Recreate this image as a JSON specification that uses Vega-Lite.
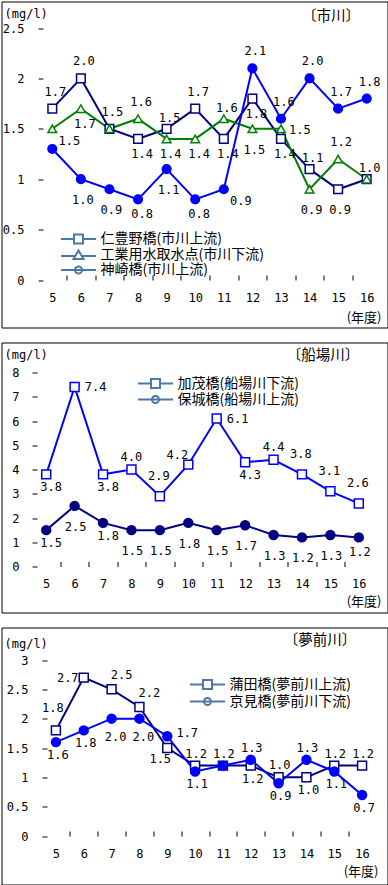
{
 "$schema": "https://vega.github.io/schema/vega-lite/v6.json",
 "padding": {"left": 0.5, "top": 0.5, "right": 0.5, "bottom": 0.5},
 "background": "white",
 "spacing": 15,
 "bounds": "flush",
 "resolve": {"scale": {"color": "independent", "stroke": "independent", "fill": "independent", "shape": "independent", "x": "independent", "y": "independent"}, "legend": {"color": "independent", "shape": "independent"}, "axis": {"x": "independent", "y": "independent"}},
 "datasets": {
  "p1": [
   {"year": 5, "site": "仁豊野橋(市川上流)", "value": 1.7},
   {"year": 6, "site": "仁豊野橋(市川上流)", "value": 2.0},
   {"year": 7, "site": "仁豊野橋(市川上流)", "value": 1.5},
   {"year": 8, "site": "仁豊野橋(市川上流)", "value": 1.4},
   {"year": 9, "site": "仁豊野橋(市川上流)", "value": 1.5},
   {"year": 10, "site": "仁豊野橋(市川上流)", "value": 1.7},
   {"year": 11, "site": "仁豊野橋(市川上流)", "value": 1.4},
   {"year": 12, "site": "仁豊野橋(市川上流)", "value": 1.8},
   {"year": 13, "site": "仁豊野橋(市川上流)", "value": 1.4},
   {"year": 14, "site": "仁豊野橋(市川上流)", "value": 1.1},
   {"year": 15, "site": "仁豊野橋(市川上流)", "value": 0.9},
   {"year": 16, "site": "仁豊野橋(市川上流)", "value": 1.0},
   {"year": 5, "site": "工業用水取水点(市川下流)", "value": 1.5},
   {"year": 6, "site": "工業用水取水点(市川下流)", "value": 1.7},
   {"year": 7, "site": "工業用水取水点(市川下流)", "value": 1.5},
   {"year": 8, "site": "工業用水取水点(市川下流)", "value": 1.6},
   {"year": 9, "site": "工業用水取水点(市川下流)", "value": 1.4},
   {"year": 10, "site": "工業用水取水点(市川下流)", "value": 1.4},
   {"year": 11, "site": "工業用水取水点(市川下流)", "value": 1.6},
   {"year": 12, "site": "工業用水取水点(市川下流)", "value": 1.5},
   {"year": 13, "site": "工業用水取水点(市川下流)", "value": 1.5},
   {"year": 14, "site": "工業用水取水点(市川下流)", "value": 0.9},
   {"year": 15, "site": "工業用水取水点(市川下流)", "value": 1.2},
   {"year": 16, "site": "工業用水取水点(市川下流)", "value": 1.0},
   {"year": 5, "site": "神崎橋(市川上流)", "value": 1.3},
   {"year": 6, "site": "神崎橋(市川上流)", "value": 1.0},
   {"year": 7, "site": "神崎橋(市川上流)", "value": 0.9},
   {"year": 8, "site": "神崎橋(市川上流)", "value": 0.8},
   {"year": 9, "site": "神崎橋(市川上流)", "value": 1.1},
   {"year": 10, "site": "神崎橋(市川上流)", "value": 0.8},
   {"year": 11, "site": "神崎橋(市川上流)", "value": 0.9},
   {"year": 12, "site": "神崎橋(市川上流)", "value": 2.1},
   {"year": 13, "site": "神崎橋(市川上流)", "value": 1.6},
   {"year": 14, "site": "神崎橋(市川上流)", "value": 2.0},
   {"year": 15, "site": "神崎橋(市川上流)", "value": 1.7},
   {"year": 16, "site": "神崎橋(市川上流)", "value": 1.8}
  ],
  "p2": [
   {"year": 5, "site": "加茂橋(船場川下流)", "value": 3.8},
   {"year": 6, "site": "加茂橋(船場川下流)", "value": 7.4},
   {"year": 7, "site": "加茂橋(船場川下流)", "value": 3.8},
   {"year": 8, "site": "加茂橋(船場川下流)", "value": 4.0},
   {"year": 9, "site": "加茂橋(船場川下流)", "value": 2.9},
   {"year": 10, "site": "加茂橋(船場川下流)", "value": 4.2},
   {"year": 11, "site": "加茂橋(船場川下流)", "value": 6.1},
   {"year": 12, "site": "加茂橋(船場川下流)", "value": 4.3},
   {"year": 13, "site": "加茂橋(船場川下流)", "value": 4.4},
   {"year": 14, "site": "加茂橋(船場川下流)", "value": 3.8},
   {"year": 15, "site": "加茂橋(船場川下流)", "value": 3.1},
   {"year": 16, "site": "加茂橋(船場川下流)", "value": 2.6},
   {"year": 5, "site": "保城橋(船場川上流)", "value": 1.5},
   {"year": 6, "site": "保城橋(船場川上流)", "value": 2.5},
   {"year": 7, "site": "保城橋(船場川上流)", "value": 1.8},
   {"year": 8, "site": "保城橋(船場川上流)", "value": 1.5},
   {"year": 9, "site": "保城橋(船場川上流)", "value": 1.5},
   {"year": 10, "site": "保城橋(船場川上流)", "value": 1.8},
   {"year": 11, "site": "保城橋(船場川上流)", "value": 1.5},
   {"year": 12, "site": "保城橋(船場川上流)", "value": 1.7},
   {"year": 13, "site": "保城橋(船場川上流)", "value": 1.3},
   {"year": 14, "site": "保城橋(船場川上流)", "value": 1.2},
   {"year": 15, "site": "保城橋(船場川上流)", "value": 1.3},
   {"year": 16, "site": "保城橋(船場川上流)", "value": 1.2}
  ],
  "p3": [
   {"year": 5, "site": "蒲田橋(夢前川上流)", "value": 1.8},
   {"year": 6, "site": "蒲田橋(夢前川上流)", "value": 2.7},
   {"year": 7, "site": "蒲田橋(夢前川上流)", "value": 2.5},
   {"year": 8, "site": "蒲田橋(夢前川上流)", "value": 2.2},
   {"year": 9, "site": "蒲田橋(夢前川上流)", "value": 1.5},
   {"year": 10, "site": "蒲田橋(夢前川上流)", "value": 1.2},
   {"year": 11, "site": "蒲田橋(夢前川上流)", "value": 1.2},
   {"year": 12, "site": "蒲田橋(夢前川上流)", "value": 1.2},
   {"year": 13, "site": "蒲田橋(夢前川上流)", "value": 1.0},
   {"year": 14, "site": "蒲田橋(夢前川上流)", "value": 1.0},
   {"year": 15, "site": "蒲田橋(夢前川上流)", "value": 1.2},
   {"year": 16, "site": "蒲田橋(夢前川上流)", "value": 1.2},
   {"year": 5, "site": "京見橋(夢前川下流)", "value": 1.6},
   {"year": 6, "site": "京見橋(夢前川下流)", "value": 1.8},
   {"year": 7, "site": "京見橋(夢前川下流)", "value": 2.0},
   {"year": 8, "site": "京見橋(夢前川下流)", "value": 2.0},
   {"year": 9, "site": "京見橋(夢前川下流)", "value": 1.7},
   {"year": 10, "site": "京見橋(夢前川下流)", "value": 1.1},
   {"year": 11, "site": "京見橋(夢前川下流)", "value": 1.2},
   {"year": 12, "site": "京見橋(夢前川下流)", "value": 1.3},
   {"year": 13, "site": "京見橋(夢前川下流)", "value": 0.9},
   {"year": 14, "site": "京見橋(夢前川下流)", "value": 1.3},
   {"year": 15, "site": "京見橋(夢前川下流)", "value": 1.1},
   {"year": 16, "site": "京見橋(夢前川下流)", "value": 0.7}
  ]
 },
 "vconcat": [
  {
   "width": 386, "height": 326,
   "data": {"name": "p1"},
   "resolve": {"scale": {"shape": "independent", "fill": "independent", "stroke": "independent"}},
   "encoding": {
    "x": {"field": "year", "type": "quantitative", "scale": {"domain": [4.5, 16.5], "range": [36.5, 379.5], "nice": false, "zero": false},
     "axis": {"values": [5, 5.5, 6, 6.5, 7, 7.5, 8, 8.5, 9, 9.5, 10, 10.5, 11, 11.5, 12, 12.5, 13, 13.5, 14, 14.5, 15, 15.5, 16], "labelExpr": "datum.value % 1 == 0 ? format(datum.value, 'd') : ''", "tickOpacity": {"condition": {"test": "datum.value % 1 == 0", "value": 0}, "value": 1}, "tickSize": -5, "offset": -47.5, "labelPadding": 22, "labelBaseline": "middle", "title": "(年度)", "titleX": 379.5, "titleY": 37, "titleAlign": "right", "titleBaseline": "middle"}},
    "y": {"field": "value", "type": "quantitative", "scale": {"domain": [0, 2.5], "range": [278.5, 26.5], "nice": false, "zero": false},
     "axis": {"values": [0, 0.5, 1, 1.5, 2, 2.5], "format": "~g", "tickSize": -5, "offset": -36.5, "labelPadding": 19, "title": "(mg/l)", "titleAngle": 0, "titleX": -34, "titleY": 12, "titleAlign": "left", "titleBaseline": "middle"}}
   },
   "layer": [
    {"data": {"values": [{}]}, "mark": {"type": "rect", "fillOpacity": 0, "stroke": "black", "strokeWidth": 1},
     "encoding": {"x": {"datum": 4.5, "type": "quantitative"}, "x2": {"datum": 16.5}, "y": {"datum": 0, "type": "quantitative"}, "y2": {"datum": 2.5}}},
    {"transform": [{"filter": "datum.year == 16 && slice(datum.site,0,1) == '神'"}],
     "mark": {"type": "text", "font": "Noto Sans CJK JP", "fontSize": 14.5, "align": "center", "baseline": "middle", "dx": -50, "dy": -11},
     "encoding": {"x": {"datum": 16.5, "type": "quantitative"}, "y": {"datum": 2.5, "type": "quantitative"}, "text": {"value": "〔市川〕"}}},
    {"mark": {"type": "line", "strokeWidth": 2},
     "encoding": {"color": {"field": "site", "type": "nominal", "scale": {"domain": ["仁豊野橋(市川上流)", "工業用水取水点(市川下流)", "神崎橋(市川上流)"], "range": ["#000080", "#008000", "#0000ff"]}, "legend": null}}},
    {"mark": {"type": "point", "strokeWidth": 1.5, "opacity": 1, "size": 75},
     "encoding": {
      "stroke": {"field": "site", "type": "nominal", "scale": {"domain": ["仁豊野橋(市川上流)", "工業用水取水点(市川下流)", "神崎橋(市川上流)"], "range": ["#000080", "#008000", "#0000ff"]}, "legend": null},
      "fill": {"field": "site", "type": "nominal", "scale": {"domain": ["仁豊野橋(市川上流)", "工業用水取水点(市川下流)", "神崎橋(市川上流)"], "range": ["#ffffff", "#ffffff", "#0000ff"]}, "legend": null},
      "shape": {"field": "site", "type": "nominal", "scale": {"domain": ["仁豊野橋(市川上流)", "工業用水取水点(市川下流)", "神崎橋(市川上流)"], "range": ["square", "triangle-up", "circle"]}, "legend": null}}},
    {"mark": {"type": "point", "opacity": 0, "size": 100, "filled": false},
     "encoding": {
      "shape": {"field": "site", "type": "nominal", "scale": {"domain": ["仁豊野橋(市川上流)", "工業用水取水点(市川下流)", "神崎橋(市川上流)"], "range": ["M-3.5,0L-0.9,0M0.9,0L3.5,0M-0.9,-0.9L0.9,-0.9L0.9,0.9L-0.9,0.9Z", "M-3.5,0.2L-0.6,0.2M0.6,0.2L3.5,0.2M0,-0.9L1,0.8L-1,0.8Z", "M-3.5,0L3.5,0M-0.7,0A0.7,0.7,0,1,1,0.7,0A0.7,0.7,0,1,1,-0.7,0Z"]},
       "legend": {"orient": "none", "legendX": 70, "legendY": 230.5, "title": null, "labelOffset": 15, "symbolSize": 100, "symbolOpacity": 1, "symbolStrokeWidth": 2, "rowPadding": -3,
        "encode": {"symbols": {"update": {
         "fill": {"signal": "datum.value == '神崎橋(市川上流)' ? '#0000ff' : '#ffffff'"},
         "stroke": {"signal": "datum.value == '仁豊野橋(市川上流)' ? '#000080' : datum.value == '工業用水取水点(市川下流)' ? '#008000' : '#0000ff'"},
         "opacity": {"value": 1}, "fillOpacity": {"value": 1}, "strokeOpacity": {"value": 1}, "strokeWidth": {"value": 2}}}}}}}},
    {"transform": [{"filter": "indexof(['仁5','仁6','仁7','工8','仁10','神12','神13','神14','神15','工15','神16'], slice(datum.site,0,1)+datum.year) >= 0"}],
     "mark": {"type": "text", "dx": 3, "dy": -17}, "encoding": {"text": {"field": "value", "format": ".1f"}}},
    {"transform": [{"filter": "indexof(['仁9','工11','仁14','仁16'], slice(datum.site,0,1)+datum.year) >= 0"}],
     "mark": {"type": "text", "dx": 3, "dy": -11}, "encoding": {"text": {"field": "value", "format": ".1f"}}},
    {"transform": [{"filter": "indexof(['工6','仁8','神8','工9','工10','神10','仁11','仁12','仁13'], slice(datum.site,0,1)+datum.year) >= 0"}],
     "mark": {"type": "text", "dx": 4, "dy": 15}, "encoding": {"text": {"field": "value", "format": ".1f"}}},
    {"transform": [{"filter": "indexof(['神6','神7','神9','工12','工14','仁15'], slice(datum.site,0,1)+datum.year) >= 0"}],
     "mark": {"type": "text", "dx": 2, "dy": 21}, "encoding": {"text": {"field": "value", "format": ".1f"}}},
    {"transform": [{"filter": "indexof(['工5','神11'], slice(datum.site,0,1)+datum.year) >= 0"}],
     "mark": {"type": "text", "dx": 17, "dy": 12}, "encoding": {"text": {"field": "value", "format": ".1f"}}},
    {"transform": [{"filter": "indexof(['工13'], slice(datum.site,0,1)+datum.year) >= 0"}],
     "mark": {"type": "text", "dx": 19, "dy": 1}, "encoding": {"text": {"field": "value", "format": ".1f"}}}
   ]
  },
  {
   "width": 386, "height": 270,
   "data": {"name": "p2"},
   "resolve": {"scale": {"shape": "independent", "fill": "independent", "stroke": "independent"}},
   "encoding": {
    "x": {"field": "year", "type": "quantitative", "scale": {"domain": [4.5, 16.5], "range": [30.5, 371.5], "nice": false, "zero": false},
     "axis": {"values": [5, 5.5, 6, 6.5, 7, 7.5, 8, 8.5, 9, 9.5, 10, 10.5, 11, 11.5, 12, 12.5, 13, 13.5, 14, 14.5, 15, 15.5, 16], "labelExpr": "datum.value % 1 == 0 ? format(datum.value, 'd') : ''", "tickOpacity": {"condition": {"test": "datum.value % 1 == 0", "value": 0}, "value": 1}, "tickSize": -5, "offset": -46, "labelPadding": 22, "labelBaseline": "middle", "title": "(年度)", "titleX": 379.5, "titleY": 35, "titleAlign": "right", "titleBaseline": "middle"}},
    "y": {"field": "value", "type": "quantitative", "scale": {"domain": [0, 8], "range": [224, 30], "nice": false, "zero": false},
     "axis": {"values": [0, 1, 2, 3, 4, 5, 6, 7, 8], "format": "d", "tickSize": -5, "offset": -30.5, "labelPadding": 18, "title": "(mg/l)", "titleAngle": 0, "titleX": -28, "titleY": 12, "titleAlign": "left", "titleBaseline": "middle"}}
   },
   "layer": [
    {"data": {"values": [{}]}, "mark": {"type": "rect", "fillOpacity": 0, "stroke": "black", "strokeWidth": 1},
     "encoding": {"x": {"datum": 4.5, "type": "quantitative"}, "x2": {"datum": 16.5}, "y": {"datum": 0, "type": "quantitative"}, "y2": {"datum": 8}}},
    {"transform": [{"filter": "datum.year == 16 && slice(datum.site,0,1) == '加'"}],
     "mark": {"type": "text", "font": "Noto Sans CJK JP", "fontSize": 14.5, "align": "center", "baseline": "middle", "dx": -50, "dy": -17},
     "encoding": {"x": {"datum": 16.5, "type": "quantitative"}, "y": {"datum": 8, "type": "quantitative"}, "text": {"value": "〔船場川〕"}}},
    {"mark": {"type": "line", "strokeWidth": 2},
     "encoding": {"color": {"field": "site", "type": "nominal", "scale": {"domain": ["加茂橋(船場川下流)", "保城橋(船場川上流)"], "range": ["#0000ff", "#000080"]}, "legend": null}}},
    {"mark": {"type": "point", "strokeWidth": 1.5, "opacity": 1, "size": 80},
     "encoding": {
      "stroke": {"field": "site", "type": "nominal", "scale": {"domain": ["加茂橋(船場川下流)", "保城橋(船場川上流)"], "range": ["#0000ff", "#000080"]}, "legend": null},
      "fill": {"field": "site", "type": "nominal", "scale": {"domain": ["加茂橋(船場川下流)", "保城橋(船場川上流)"], "range": ["#ffffff", "#000080"]}, "legend": null},
      "shape": {"field": "site", "type": "nominal", "scale": {"domain": ["加茂橋(船場川下流)", "保城橋(船場川上流)"], "range": ["square", "circle"]}, "legend": null}}},
    {"mark": {"type": "point", "opacity": 0, "size": 100, "filled": false},
     "encoding": {
      "shape": {"field": "site", "type": "nominal", "scale": {"domain": ["加茂橋(船場川下流)", "保城橋(船場川上流)"], "range": ["M-3.5,0L-0.9,0M0.9,0L3.5,0M-0.9,-0.9L0.9,-0.9L0.9,0.9L-0.9,0.9Z", "M-3.5,0L3.5,0M-0.7,0A0.7,0.7,0,1,1,0.7,0A0.7,0.7,0,1,1,-0.7,0Z"]},
       "legend": {"orient": "none", "legendX": 147, "legendY": 34, "title": null, "labelOffset": 15, "symbolSize": 100, "symbolOpacity": 1, "symbolStrokeWidth": 2, "rowPadding": -2,
        "encode": {"symbols": {"update": {
         "fill": {"signal": "datum.value == '加茂橋(船場川下流)' ? '#ffffff' : '#000080'"},
         "stroke": {"signal": "datum.value == '加茂橋(船場川下流)' ? '#0000ff' : '#000080'"},
         "opacity": {"value": 1}, "fillOpacity": {"value": 1}, "strokeOpacity": {"value": 1}, "strokeWidth": {"value": 2}}}}}}}},
    {"transform": [{"filter": "indexof(['加8','加13'], slice(datum.site,0,1)+datum.year) >= 0"}],
     "mark": {"type": "text", "dx": 0, "dy": -13}, "encoding": {"text": {"field": "value", "format": ".1f"}}},
    {"transform": [{"filter": "indexof(['加9','加14','加15','加16'], slice(datum.site,0,1)+datum.year) >= 0"}],
     "mark": {"type": "text", "dx": -1, "dy": -20}, "encoding": {"text": {"field": "value", "format": ".1f"}}},
    {"transform": [{"filter": "indexof(['加10'], slice(datum.site,0,1)+datum.year) >= 0"}],
     "mark": {"type": "text", "dx": -11, "dy": -10}, "encoding": {"text": {"field": "value", "format": ".1f"}}},
    {"transform": [{"filter": "indexof(['加6','加11'], slice(datum.site,0,1)+datum.year) >= 0"}],
     "mark": {"type": "text", "dx": 21, "dy": 0}, "encoding": {"text": {"field": "value", "format": ".1f"}}},
    {"transform": [{"filter": "indexof(['加5','加7','加12','保5','保7'], slice(datum.site,0,1)+datum.year) >= 0"}],
     "mark": {"type": "text", "dx": 5, "dy": 13}, "encoding": {"text": {"field": "value", "format": ".1f"}}},
    {"transform": [{"filter": "indexof(['保6','保8','保9','保10','保11','保12','保13','保14','保15'], slice(datum.site,0,1)+datum.year) >= 0"}],
     "mark": {"type": "text", "dx": 1, "dy": 21}, "encoding": {"text": {"field": "value", "format": ".1f"}}},
    {"transform": [{"filter": "indexof(['保16'], slice(datum.site,0,1)+datum.year) >= 0"}],
     "mark": {"type": "text", "dx": 1, "dy": 15}, "encoding": {"text": {"field": "value", "format": ".1f"}}}
   ]
  },
  {
   "width": 386, "height": 257,
   "data": {"name": "p3"},
   "resolve": {"scale": {"shape": "independent", "fill": "independent", "stroke": "independent"}},
   "encoding": {
    "x": {"field": "year", "type": "quantitative", "scale": {"domain": [4.5, 16.5], "range": [40.5, 374.5], "nice": false, "zero": false},
     "axis": {"values": [5, 5.5, 6, 6.5, 7, 7.5, 8, 8.5, 9, 9.5, 10, 10.5, 11, 11.5, 12, 12.5, 13, 13.5, 14, 14.5, 15, 15.5, 16], "labelExpr": "datum.value % 1 == 0 ? format(datum.value, 'd') : ''", "tickOpacity": {"condition": {"test": "datum.value % 1 == 0", "value": 0}, "value": 1}, "tickSize": -5, "offset": -48.5, "labelPadding": 22, "labelBaseline": "middle", "title": "(年度)", "titleX": 376.5, "titleY": 35.5, "titleAlign": "right", "titleBaseline": "middle"}},
    "y": {"field": "value", "type": "quantitative", "scale": {"domain": [0, 3], "range": [208.5, 32.5], "nice": false, "zero": false},
     "axis": {"values": [0, 0.5, 1, 1.5, 2, 2.5, 3], "format": "~g", "tickSize": -5, "offset": -40.5, "labelPadding": 19, "title": "(mg/l)", "titleAngle": 0, "titleX": -38, "titleY": 16, "titleAlign": "left", "titleBaseline": "middle"}}
   },
   "layer": [
    {"data": {"values": [{}]}, "mark": {"type": "rect", "fillOpacity": 0, "stroke": "black", "strokeWidth": 1},
     "encoding": {"x": {"datum": 4.5, "type": "quantitative"}, "x2": {"datum": 16.5}, "y": {"datum": 0, "type": "quantitative"}, "y2": {"datum": 3}}},
    {"transform": [{"filter": "datum.year == 16 && slice(datum.site,0,1) == '蒲'"}],
     "mark": {"type": "text", "font": "Noto Sans CJK JP", "fontSize": 14.5, "align": "center", "baseline": "middle", "dx": -56, "dy": -19},
     "encoding": {"x": {"datum": 16.5, "type": "quantitative"}, "y": {"datum": 3, "type": "quantitative"}, "text": {"value": "〔夢前川〕"}}},
    {"mark": {"type": "line", "strokeWidth": 2},
     "encoding": {"color": {"field": "site", "type": "nominal", "scale": {"domain": ["蒲田橋(夢前川上流)", "京見橋(夢前川下流)"], "range": ["#000080", "#0000ff"]}, "legend": null}}},
    {"mark": {"type": "point", "strokeWidth": 1.5, "opacity": 1, "size": 80},
     "encoding": {
      "stroke": {"field": "site", "type": "nominal", "scale": {"domain": ["蒲田橋(夢前川上流)", "京見橋(夢前川下流)"], "range": ["#000080", "#0000ff"]}, "legend": null},
      "fill": {"field": "site", "type": "nominal", "scale": {"domain": ["蒲田橋(夢前川上流)", "京見橋(夢前川下流)"], "range": ["#ffffff", "#0000ff"]}, "legend": null},
      "shape": {"field": "site", "type": "nominal", "scale": {"domain": ["蒲田橋(夢前川上流)", "京見橋(夢前川下流)"], "range": ["square", "circle"]}, "legend": null}}},
    {"mark": {"type": "point", "opacity": 0, "size": 100, "filled": false},
     "encoding": {
      "shape": {"field": "site", "type": "nominal", "scale": {"domain": ["蒲田橋(夢前川上流)", "京見橋(夢前川下流)"], "range": ["M-3.5,0L-0.9,0M0.9,0L3.5,0M-0.9,-0.9L0.9,-0.9L0.9,0.9L-0.9,0.9Z", "M-3.5,0L3.5,0M-0.7,0A0.7,0.7,0,1,1,0.7,0A0.7,0.7,0,1,1,-0.7,0Z"]},
       "legend": {"orient": "none", "legendX": 199, "legendY": 50, "title": null, "labelOffset": 15, "symbolSize": 100, "symbolOpacity": 1, "symbolStrokeWidth": 2, "rowPadding": 0,
        "encode": {"symbols": {"update": {
         "fill": {"signal": "datum.value == '蒲田橋(夢前川上流)' ? '#ffffff' : '#0000ff'"},
         "stroke": {"signal": "datum.value == '蒲田橋(夢前川上流)' ? '#000080' : '#0000ff'"},
         "opacity": {"value": 1}, "fillOpacity": {"value": 1}, "strokeOpacity": {"value": 1}, "strokeWidth": {"value": 2}}}}}}}},
    {"transform": [{"filter": "indexof(['蒲10','蒲11','蒲13','蒲15','蒲16','京12','京14'], slice(datum.site,0,1)+datum.year) >= 0"}],
     "mark": {"type": "text", "dx": 1, "dy": -12}, "encoding": {"text": {"field": "value", "format": ".1f"}}},
    {"transform": [{"filter": "indexof(['蒲7','蒲8'], slice(datum.site,0,1)+datum.year) >= 0"}],
     "mark": {"type": "text", "dx": 10, "dy": -14}, "encoding": {"text": {"field": "value", "format": ".1f"}}},
    {"transform": [{"filter": "indexof(['蒲5'], slice(datum.site,0,1)+datum.year) >= 0"}],
     "mark": {"type": "text", "dx": -3, "dy": -22}, "encoding": {"text": {"field": "value", "format": ".1f"}}},
    {"transform": [{"filter": "indexof(['蒲6'], slice(datum.site,0,1)+datum.year) >= 0"}],
     "mark": {"type": "text", "dx": -16, "dy": 0}, "encoding": {"text": {"field": "value", "format": ".1f"}}},
    {"transform": [{"filter": "indexof(['蒲12','蒲14','京10','京13','京15','京16','京5','京6'], slice(datum.site,0,1)+datum.year) >= 0"}],
     "mark": {"type": "text", "dx": 2, "dy": 13}, "encoding": {"text": {"field": "value", "format": ".1f"}}},
    {"transform": [{"filter": "indexof(['蒲9'], slice(datum.site,0,1)+datum.year) >= 0"}],
     "mark": {"type": "text", "dx": -7, "dy": 11}, "encoding": {"text": {"field": "value", "format": ".1f"}}},
    {"transform": [{"filter": "indexof(['京7','京8'], slice(datum.site,0,1)+datum.year) >= 0"}],
     "mark": {"type": "text", "dx": 4, "dy": 18}, "encoding": {"text": {"field": "value", "format": ".1f"}}},
    {"transform": [{"filter": "indexof(['京9'], slice(datum.site,0,1)+datum.year) >= 0"}],
     "mark": {"type": "text", "dx": 20, "dy": -3}, "encoding": {"text": {"field": "value", "format": ".1f"}}}
   ]
  }
 ],
 "config": {
  "view": {"stroke": "black", "strokeWidth": 1},
  "axis": {"labelFont": "DejaVu Sans Mono", "labelFontSize": 12, "labelColor": "black", "titleFont": "DejaVu Sans Mono", "titleFontSize": 12, "titleFontWeight": "normal", "titleColor": "black", "tickColor": "black", "tickWidth": 1, "domain": false, "grid": false, "labelOverlap": false, "labelFlush": false},
  "axisX": {"titleFont": "Noto Sans CJK JP", "titleFontSize": 13},
  "legend": {"labelFont": "Noto Sans CJK JP", "labelFontSize": 14, "labelColor": "black", "labelLimit": 0},
  "text": {"font": "DejaVu Sans Mono", "fontSize": 12, "color": "black", "align": "center", "baseline": "middle"}
 }
}
